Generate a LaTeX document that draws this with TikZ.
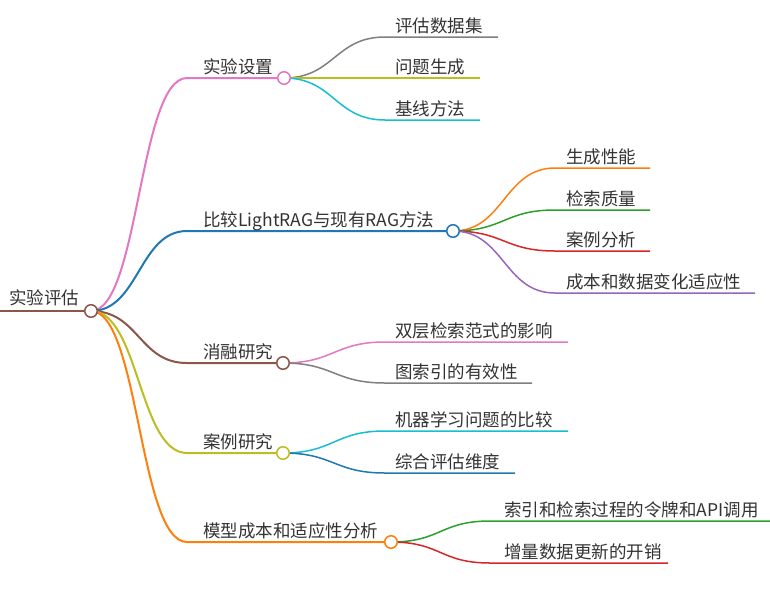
\documentclass[tikz,border=0pt]{standalone}
\usepackage{fontspec}
\newfontfamily\cjk{Noto Sans CJK SC}
\usetikzlibrary{backgrounds}

\definecolor{mmpink}{HTML}{E377C2}
\definecolor{mmblue}{HTML}{1F77B4}
\definecolor{mmbrown}{HTML}{8C564B}
\definecolor{mmolive}{HTML}{BCBD22}
\definecolor{mmorange}{HTML}{FF7F0E}
\definecolor{mmgray}{HTML}{7F7F7F}
\definecolor{mmcyan}{HTML}{17BECF}
\definecolor{mmgreen}{HTML}{2CA02C}
\definecolor{mmred}{HTML}{D62728}
\definecolor{mmpurple}{HTML}{9467BD}
\definecolor{textgray}{HTML}{333333}

\begin{document}
\begin{tikzpicture}[x=1pt, y=-1pt,
	txt/.style={anchor=base west, inner sep=0pt, text=textgray, font=\cjk\fontsize{17.5}{21}\selectfont},
	knob/.style={circle, draw, fill=white, line width=1.5pt, minimum size=12.5pt, inner sep=0pt},
	link/.style={line width=2pt},
	twig/.style={line width=1.5pt}]

	\useasboundingbox (0,0) rectangle (770,590);

	\node (root) [txt] at (9,304) {实验评估};
	\coordinate (r0) at (0,311);
	\node (c0) [knob, draw=mmbrown] at (91,311) {};

	\node (t1) [txt] at (203,73) {实验设置};
	\node (c1) [knob, draw=mmpink] at (284,78) {};
	\node (t2) [txt] at (203,226) {比较LightRAG与现有RAG方法};
	\node (c2) [knob, draw=mmblue] at (453,231) {};
	\node (t3) [txt] at (203,358) {消融研究};
	\node (c3) [knob, draw=mmbrown] at (283,363) {};
	\node (t4) [txt] at (203,448) {案例研究};
	\node (c4) [knob, draw=mmolive] at (283,453) {};
	\node (t5) [txt] at (203,537) {模型成本和适应性分析};
	\node (c5) [knob, draw=mmorange] at (391,542) {};

	\coordinate (s1) at (187,78);
	\coordinate (s2) at (187,231);
	\coordinate (s3) at (187,363);
	\coordinate (s4) at (187,453);
	\coordinate (s5) at (187,542);

	\node (l11) [txt] at (395,32) {评估数据集};
	\node (l12) [txt] at (395,73) {问题生成};
	\node (l13) [txt] at (395,115) {基线方法};
	\coordinate (a11) at (385,37);  \coordinate (b11) at (498,37);
	\coordinate (a12) at (385,78);  \coordinate (b12) at (480,78);
	\coordinate (a13) at (385,120); \coordinate (b13) at (480,120);

	\node (l21) [txt] at (566,163) {生成性能};
	\node (l22) [txt] at (566,205) {检索质量};
	\node (l23) [txt] at (566,246) {案例分析};
	\node (l24) [txt] at (566,288) {成本和数据变化适应性};
	\coordinate (a21) at (555,168); \coordinate (b21) at (650,168);
	\coordinate (a22) at (555,210); \coordinate (b22) at (650,210);
	\coordinate (a23) at (555,251); \coordinate (b23) at (650,251);
	\coordinate (a24) at (555,293); \coordinate (b24) at (755,293);

	\node (l31) [txt] at (395,337) {双层检索范式的影响};
	\node (l32) [txt] at (395,378) {图索引的有效性};
	\coordinate (a31) at (385,342); \coordinate (b31) at (568,342);
	\coordinate (a32) at (385,383); \coordinate (b32) at (532,383);

	\node (l41) [txt] at (395,426) {机器学习问题的比较};
	\node (l42) [txt] at (395,468) {综合评估维度};
	\coordinate (a41) at (385,431); \coordinate (b41) at (568,431);
	\coordinate (a42) at (385,473); \coordinate (b42) at (515,473);

	\node (l51) [txt] at (504,516) {索引和检索过程的令牌和API调用};
	\node (l52) [txt] at (504,558) {增量数据更新的开销};
	\coordinate (a51) at (490,521); \coordinate (b51) at (770,521);
	\coordinate (a52) at (490,563); \coordinate (b52) at (668,563);

	\begin{scope}[on background layer]
	\draw[link, mmbrown] (r0) -- (c0.center);

	\draw[link, mmpink] (c0.center) .. controls +(48,0) and +(-48,0) .. (s1) -- (c1.center);
	\draw[link, mmblue] (c0.center) .. controls +(48,0) and +(-48,0) .. (s2) -- (c2.center);
	\draw[link, mmbrown] (c0.center) .. controls +(48,0) and +(-48,0) .. (s3) -- (c3.center);
	\draw[link, mmolive] (c0.center) .. controls +(48,0) and +(-48,0) .. (s4) -- (c4.center);
	\draw[link, mmorange] (c0.center) .. controls +(48,0) and +(-48,0) .. (s5) -- (c5.center);

	\draw[twig, mmgray] (c1.center) .. controls +(50,0) and +(-50,0) .. (a11) -- (b11);
	\draw[twig, mmolive] (c1.center) .. controls +(50,0) and +(-50,0) .. (a12) -- (b12);
	\draw[twig, mmcyan] (c1.center) .. controls +(50,0) and +(-50,0) .. (a13) -- (b13);

	\draw[twig, mmorange] (c2.center) .. controls +(51,0) and +(-51,0) .. (a21) -- (b21);
	\draw[twig, mmgreen] (c2.center) .. controls +(51,0) and +(-51,0) .. (a22) -- (b22);
	\draw[twig, mmred] (c2.center) .. controls +(51,0) and +(-51,0) .. (a23) -- (b23);
	\draw[twig, mmpurple] (c2.center) .. controls +(51,0) and +(-51,0) .. (a24) -- (b24);

	\draw[twig, mmpink] (c3.center) .. controls +(51,0) and +(-51,0) .. (a31) -- (b31);
	\draw[twig, mmgray] (c3.center) .. controls +(51,0) and +(-51,0) .. (a32) -- (b32);

	\draw[twig, mmcyan] (c4.center) .. controls +(51,0) and +(-51,0) .. (a41) -- (b41);
	\draw[twig, mmblue] (c4.center) .. controls +(51,0) and +(-51,0) .. (a42) -- (b42);

	\draw[twig, mmgreen] (c5.center) .. controls +(50,0) and +(-50,0) .. (a51) -- (b51);
	\draw[twig, mmred] (c5.center) .. controls +(50,0) and +(-50,0) .. (a52) -- (b52);
	\end{scope}

\end{tikzpicture}
\end{document}
